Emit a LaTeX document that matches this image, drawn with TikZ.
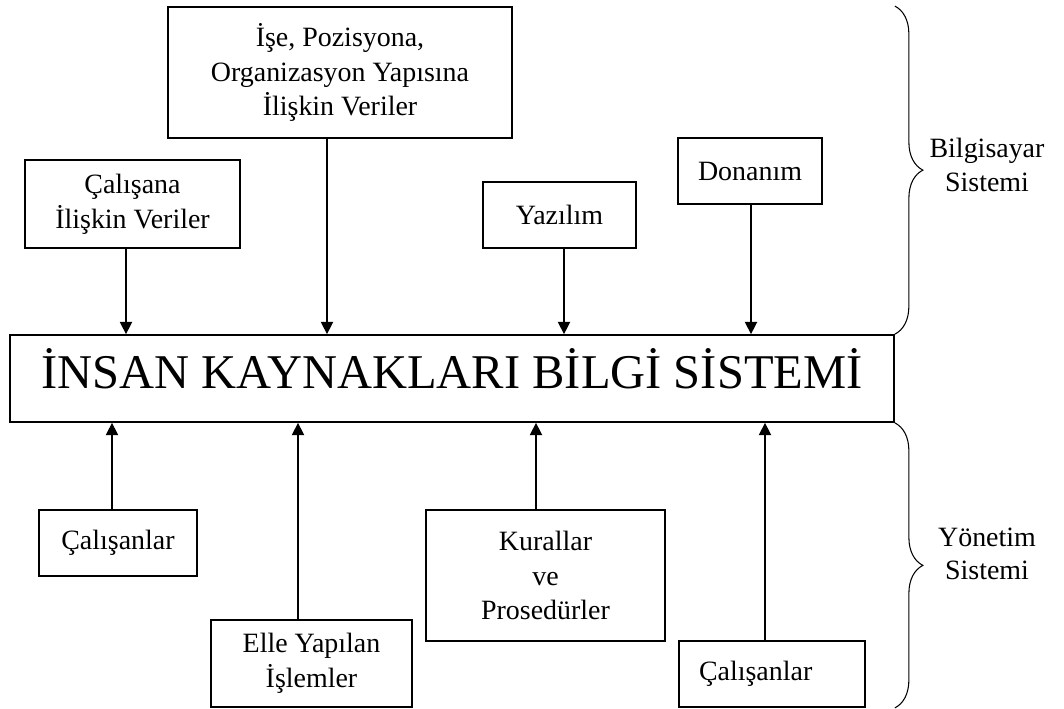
\documentclass[tikz,border=0pt]{standalone}
\usepackage{fontspec}
\setmainfont{Liberation Serif}
\usepackage{tikz}
\usetikzlibrary{arrows.meta, positioning, decorations.pathreplacing}

\begin{document}
\begin{tikzpicture}[
    box/.style={draw, line width=1pt, align=center, inner sep=2pt,
        font=\fontsize{15.9}{19.8}\selectfont},
    arr/.style={-{Triangle[length=7pt, width=7pt]}, line width=0.8pt},
    brc/.style={decorate, decoration={brace, amplitude=0.56cm}, line width=0.6pt},
    lbl/.style={align=center, font=\fontsize{15.9}{19.1}\selectfont}]
    \useasboundingbox (0, 0) rectangle (21.28, 14.16);

    % Main box
    \node[box, minimum width=17.68cm, minimum height=1.74cm, inner ysep=0pt, text depth=0.4cm,
        font=\fontsize{27.6}{33}\selectfont] (main) at (9.04, 6.59) {İNSAN KAYNAKLARI BİLGİ SİSTEMİ};

    % Computer system side
    \node[box, minimum width=6.88cm, minimum height=2.62cm] (ise) at (6.80, 12.71)
        {İşe, Pozisyona,\\ Organizasyon Yapısına\\ İlişkin Veriler};
    \node[box, minimum width=4.30cm, minimum height=1.76cm] (calisana) at (2.65, 10.08)
        {Çalışana\\ İlişkin Veriler};
    \node[box, minimum width=3.06cm, minimum height=1.32cm] (yazilim) at (11.19, 9.86) {Yazılım};
    \node[box, minimum width=2.88cm, minimum height=1.32cm] (donanim) at (15.00, 10.74) {Donanım};

    % Management system side
    \node[box, minimum width=3.16cm, minimum height=1.32cm] (calisanlarA) at (2.36, 3.30) {Çalışanlar};
    \node[box, minimum width=4.02cm, minimum height=1.74cm] (elle) at (6.23, 0.89)
        {Elle Yapılan\\ İşlemler};
    \node[box, minimum width=4.78cm, minimum height=2.62cm] (kurallar) at (10.91, 2.65)
        {Kurallar\\ ve\\ Prosedürler};
    \node[box, minimum height=1.32cm, inner xsep=0.4cm, text width=2.92cm, align=left]
        (calisanlarB) at (15.44, 0.68) {Çalışanlar};

    % Inputs from above
    \draw[arr] ([xshift=-1.3mm]calisana.south) -- ([xshift=-1.3mm]calisana.south |- main.north);
    \draw[arr] ([xshift=-2.6mm]ise.south) -- ([xshift=-2.6mm]ise.south |- main.north);
    \draw[arr] ([xshift=0.9mm]yazilim.south) -- ([xshift=0.9mm]yazilim.south |- main.north);
    \draw[arr] ([xshift=0.2mm]donanim.south) -- ([xshift=0.2mm]donanim.south |- main.north);

    % Inputs from below
    \draw[arr] ([xshift=-1.2mm]calisanlarA.north) -- ([xshift=-1.2mm]calisanlarA.north |- main.south);
    \draw[arr] ([xshift=-2.7mm]elle.north) -- ([xshift=-2.7mm]elle.north |- main.south);
    \draw[arr] ([xshift=-1.9mm]kurallar.north) -- ([xshift=-1.9mm]kurallar.north |- main.south);
    \draw[arr] ([xshift=-1.4mm]calisanlarB.north) -- ([xshift=-1.4mm]calisanlarB.north |- main.south);

    % Braces
    \draw[brc] (main.north east |- ise.north) -- (main.north east);
    \draw[brc] (main.south east) -- (main.south east |- elle.south);
    \node[lbl] (bilgisayar) at (19.74, 10.86) {Bilgisayar\\ Sistemi};
    \node[lbl] (yonetim) at (19.74, 3.08) {Yönetim\\ Sistemi};
\end{tikzpicture}
\end{document}
